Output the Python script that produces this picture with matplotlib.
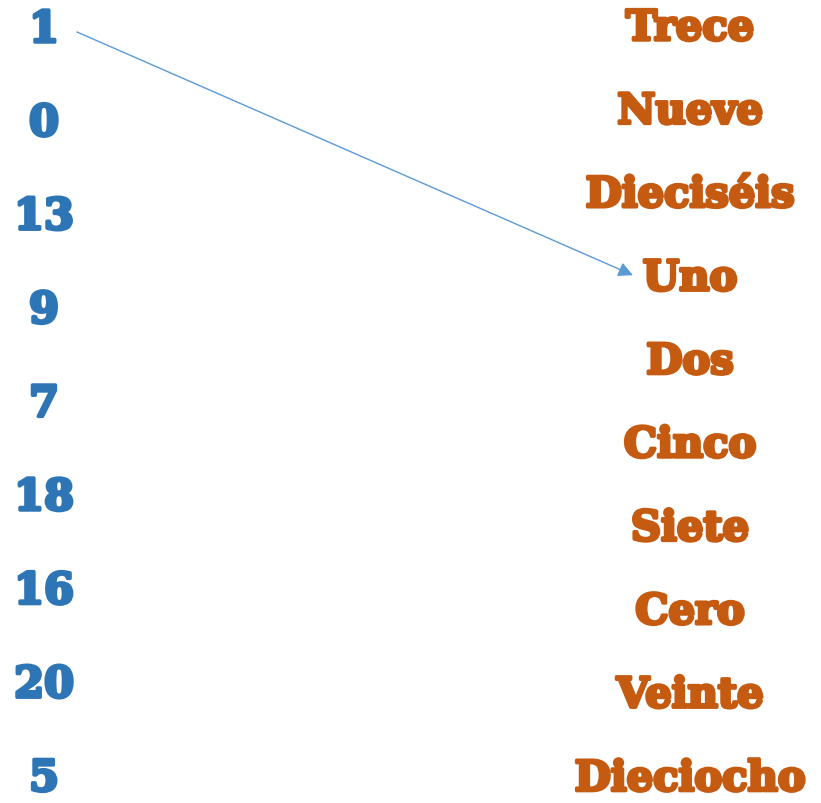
import matplotlib.pyplot as plt
import matplotlib.patheffects as pe

numbers = ["1", "0", "13", "9", "7", "18", "16", "20", "5"]
words = ["Trece", "Nueve", "Dieciséis", "Uno", "Dos", "Cinco", "Siete",
         "Cero", "Veinte", "Dieciocho"]
# matched pairs already drawn (number index, word index)
links = [(0, 3)]

num_color = "#2E75B6"
word_color = "#C55A11"
arrow_color = "#5B9BD5"

fig = plt.figure(figsize=(8.21, 8.04), dpi=100)
ax = fig.add_axes([0, 0, 1, 1])
ax.set_xlim(0, 821)
ax.set_ylim(804, 0)
ax.axis("off")

num_y = [31 + i * 93.6 for i in range(len(numbers))]
word_y = [29 + i * 83.4 for i in range(len(words))]

for y, n in zip(num_y, numbers):
    ax.text(44, y, n, ha="center", va="center", color=num_color,
            fontsize=31, fontweight="bold", family="DejaVu Serif",
            path_effects=[pe.withStroke(linewidth=2.5, foreground=num_color)])

for y, w in zip(word_y, words):
    ax.text(690, y, w, ha="center", va="center", color=word_color,
            fontsize=30, fontweight="bold", family="DejaVu Serif",
            path_effects=[pe.withStroke(linewidth=2.5, foreground=word_color)])

for i, j in links:
    ax.annotate("", xy=(633, word_y[j] - 3), xytext=(77, num_y[i] + 2),
                arrowprops=dict(arrowstyle="-|>", color=arrow_color, lw=1,
                                mutation_scale=22, shrinkA=0, shrinkB=0))

fig.savefig("out.png", dpi=100)
